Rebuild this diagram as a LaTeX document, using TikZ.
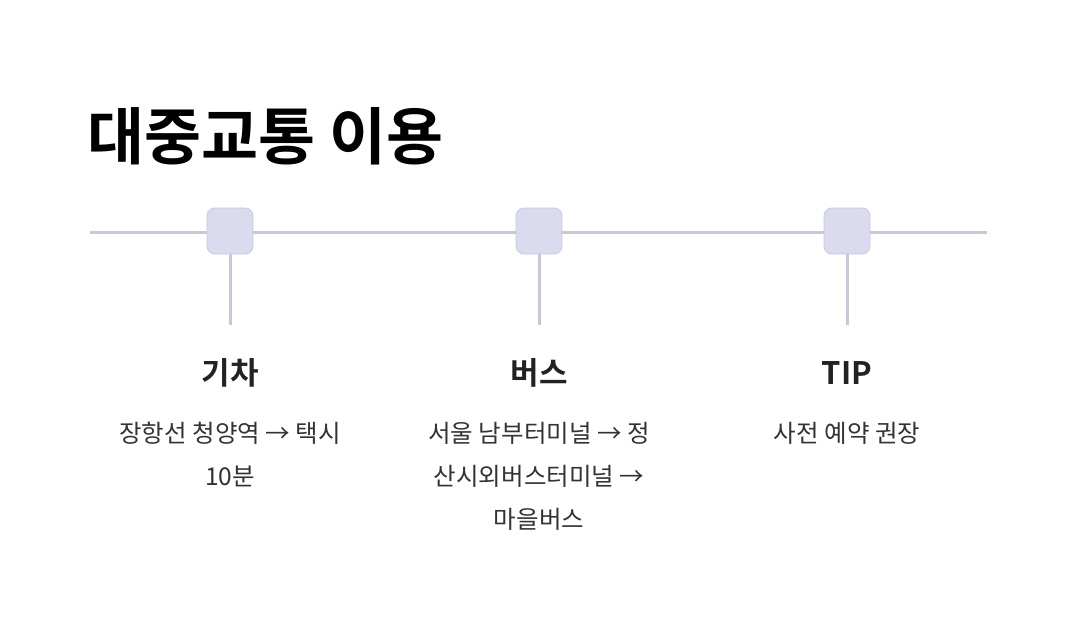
\documentclass[tikz,border=0pt]{standalone}
\usepackage{fontspec}
\setmainfont{Noto Sans CJK KR}
\newfontfamily\krb{Noto Sans CJK KR Bold}
\begin{document}
\begin{tikzpicture}[x=1pt,y=-1pt,
  tl/.style={draw=linec, line width=3pt},
  stop/.style={draw=boxb, fill=boxf, line width=0.8pt, rounded corners=8pt, minimum width=46pt, minimum height=46pt, inner sep=0pt},
  head/.style={font=\krb\fontsize{31}{34}\selectfont, text=headc, anchor=center, inner sep=0pt},
  body/.style={font=\fontsize{24.5}{43}\selectfont, text=bodyc, align=center, anchor=north, inner sep=0pt}]
\definecolor{linec}{HTML}{C9C7DA}
\definecolor{boxf}{HTML}{DBDBEF}
\definecolor{boxb}{HTML}{C8C6E0}
\definecolor{headc}{HTML}{222222}
\definecolor{bodyc}{HTML}{333333}
\useasboundingbox (0,0) rectangle (1076,634);
\node[anchor=base west, inner sep=0pt, font=\krb\fontsize{62}{66}\selectfont, text=black] (title) at (87,159) {대중교통 이용};
\coordinate (L) at (90,232);
\coordinate (R) at (987,232);
\draw[tl] (L) -- (R);
\foreach \n/\x in {a/230,b/539,c/847}{
  \node[stop] (\n) at (\x,231) {};
  \coordinate (\n e) at (\x,325);
  \draw[tl] (\n.south) -- (\n e);
}
\node[head] (ha) at (230,373) {기차};
\node[head] (hb) at (539,373) {버스};
\node[head] (hc) at (847,373) {TIP};
\node[body] (ba) at (230,422) {장항선 청양역 → 택시\\10분};
\node[body] (bb) at (539,422) {서울 남부터미널 → 정\\산시외버스터미널 →\\마을버스};
\node[body] (bc) at (847,422) {사전 예약 권장};
\end{tikzpicture}
\end{document}
